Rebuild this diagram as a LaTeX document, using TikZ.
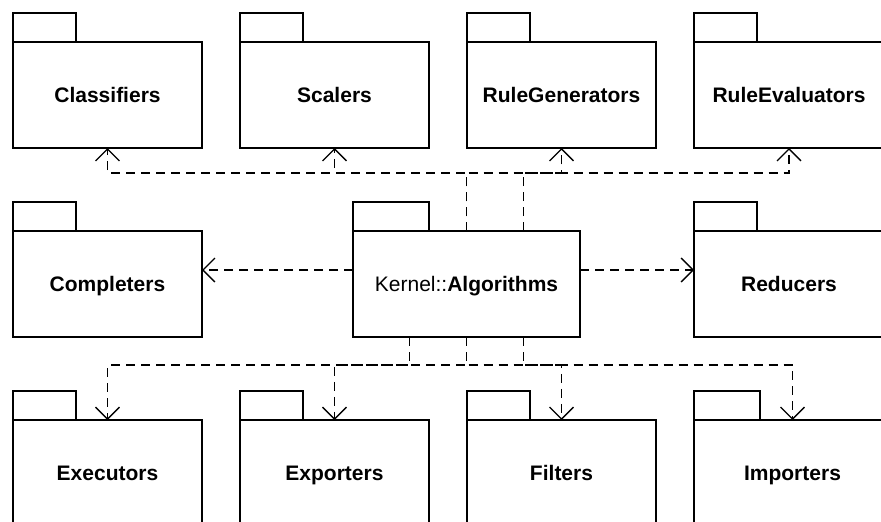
\documentclass[tikz,border=0pt]{standalone}
\usepackage{fontspec}
\setmainfont{Liberation Sans}
\usetikzlibrary{arrows.meta,calc}

\tikzset{
  pkg/.style={draw, line width=2pt, outer sep=0pt, inner sep=0pt,
    minimum width=#1, minimum height=106pt,
    text height=15pt, text depth=0pt,
    font=\fontsize{21pt}{25pt}\selectfont},
  pkg/.default=189pt,
  tabline/.style={line width=2pt, line join=miter},
  dep/.style={line width=1.3pt, dash pattern=on 9pt off 6pt,
    -{Straight Barb[length=12pt,width=24pt,line width=1.3pt]}},
}

\begin{document}
\begin{tikzpicture}[x=1pt,y=-1pt]
  \clip (0,0) rectangle (881,522);
  \fill[white] (0,0) rectangle (881,522);

  % package bodies
  \node[pkg] (cls) at (107.5,95)  {\bfseries Classifiers};
  \node[pkg] (scl) at (334.5,95)  {\bfseries Scalers};
  \node[pkg] (rgn) at (561.5,95)  {\bfseries RuleGenerators};
  \node[pkg=190pt] (rev) at (789,95) {\bfseries RuleEvaluators};

  \node[pkg] (cmp) at (107.5,284) {\bfseries Completers};
  \node[pkg=227pt] (alg) at (466.5,284) {Kernel::\textbf{Algorithms}};
  \node[pkg=190pt] (red) at (789,284) {\bfseries Reducers};

  \node[pkg] (exe) at (107.5,473) {\bfseries Executors};
  \node[pkg] (exp) at (334.5,473) {\bfseries Exporters};
  \node[pkg] (fil) at (561.5,473) {\bfseries Filters};
  \node[pkg=197pt] (imp) at (792.5,473) {\bfseries Importers};

  % package tabs: one third of the body width, 29pt high
  \foreach \n in {cls,scl,rgn,rev,cmp,alg,red,exe,exp,fil,imp}
    \draw[tabline] (\n.north west) -- ++(0,-29)
      -| ($(\n.north west)!1/3!(\n.north east)$);

  % routing helpers
  \coordinate (topbus) at (0,173);
  \coordinate (botbus) at (0,365);
  \coordinate (midline) at (0,270);
  \coordinate (atop) at ($(alg.north west)!0.75!(alg.north east)$);
  \coordinate (abotl) at ($(alg.south west)!0.25!(alg.south east)$);
  \coordinate (abotr) at ($(alg.south west)!0.75!(alg.south east)$);

  % dependencies, upper row
  \draw[dep] (alg.north) -- (alg.north |- topbus) -| (cls.south);
  \draw[dep] (alg.north) -- (alg.north |- topbus) -| (scl.south);
  \draw[dep] (atop) -- (atop |- topbus) -| (rgn.south);
  \draw[dep] (alg.north) -- (alg.north |- topbus) -| (rev.south);

  % dependencies, sides
  \draw[dep] (alg.west |- midline) -- (cmp.east |- midline);
  \draw[dep] (alg.east |- midline) -- (red.west |- midline);

  % dependencies, lower row
  \draw[dep] (alg.south) -- (alg.south |- botbus) -| (exe.north);
  \draw[dep] (abotl) -- (abotl |- botbus) -| (exp.north);
  \draw[dep] (abotr) -- (abotr |- botbus) -| (fil.north);
  \draw[dep] (alg.south) -- (alg.south |- botbus) -| (imp.north);
\end{tikzpicture}
\end{document}
